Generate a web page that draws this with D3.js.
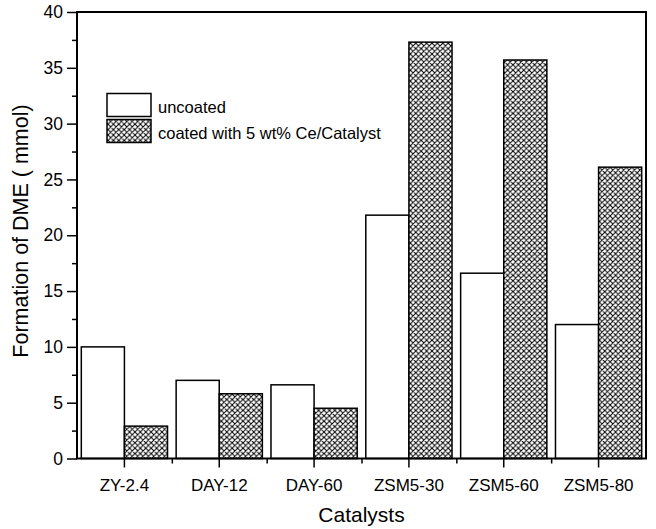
<!DOCTYPE html>
<html>
<head>
<meta charset="utf-8">
<script src="https://cdn.jsdelivr.net/npm/d3@7/dist/d3.min.js"></script>
<style>
body{margin:0;background:#fff;}
text{font-family:Arial,"Liberation Sans",sans-serif;fill:#000;}
</style>
</head>
<body>
<svg id="chart" width="656" height="529"></svg>
<script>
const categories = ["ZY-2.4","DAY-12","DAY-60","ZSM5-30","ZSM5-60","ZSM5-80"];
const uncoated = [10.0, 7.0, 6.6, 21.8, 16.6, 12.0];
const coated = [2.9, 5.8, 4.5, 37.3, 35.7, 26.1];
const seriesNames = ["uncoated","coated with 5 wt% Ce/Catalyst"];
const yTicks = [0,5,10,15,20,25,30,35,40];
const yMinorTicks = [2.5,7.5,12.5,17.5,22.5,27.5,32.5,37.5];

const svg = d3.select("#chart");
const m = {left:77, right:656-646, top:12, bottom:529-458.5};
const W = 656, H = 529;

const P = 5.4;
const defs = svg.append("defs");
const pat = defs.append("pattern").attr("id","hatch").attr("patternUnits","userSpaceOnUse")
  .attr("width",P).attr("height",P);
pat.append("rect").attr("width",P).attr("height",P).attr("fill","#fff");
pat.append("path").attr("d",`M0,0L${P},${P}M${P},0L0,${P}M-1,1L1,-1M${P-1},${P+1}L${P+1},${P-1}M-1,${P-1}L1,${P+1}M${P-1},-1L${P+1},1`)
  .attr("stroke","#000").attr("stroke-width",1).attr("fill","none");

const x = d3.scaleBand().domain(categories).range([m.left, W-m.right]).paddingInner(0).paddingOuter(0);
const xs = d3.scaleBand().domain([0,1]).range([0, x.bandwidth()]).paddingOuter(0.1).paddingInner(0);
const y = d3.scaleLinear().domain([0,40]).range([H-m.bottom, m.top]);

const g = svg.append("g");
const data = categories.map((c,i)=>({c, vals:[uncoated[i], coated[i]]}));
data.forEach(d=>{
  d.vals.forEach((v,j)=>{
    g.append("rect")
      .attr("x", x(d.c)+xs(j))
      .attr("y", y(v))
      .attr("width", xs.bandwidth())
      .attr("height", y(0)-y(v))
      .attr("fill", j===0 ? "#fff" : "url(#hatch)")
      .attr("stroke","#000").attr("stroke-width",1.5);
  });
});

// frame
svg.append("rect").attr("x",m.left).attr("y",m.top).attr("width",W-m.right-m.left).attr("height",y(0)-m.top)
  .attr("fill","none").attr("stroke","#000").attr("stroke-width",2);

// y axis
const yAxis = d3.axisLeft(y).tickValues(yTicks).tickSize(10).tickFormat(d3.format("d"));
const ya = svg.append("g").attr("transform",`translate(${m.left},0)`).call(yAxis);
ya.select(".domain").remove();
ya.selectAll("line").attr("stroke-width",1.5);
ya.selectAll("text").attr("font-size",17.5).attr("dx",-1).attr("font-family","Arial,'Liberation Sans',sans-serif");
const yMin = d3.axisLeft(y).tickValues(yMinorTicks).tickSize(5).tickFormat("");
const ym = svg.append("g").attr("transform",`translate(${m.left},0)`).call(yMin);
ym.select(".domain").remove();
ym.selectAll("line").attr("stroke-width",1.5);

// x axis
const xAxis = d3.axisBottom(x).tickSize(9).tickPadding(11);
const xa = svg.append("g").attr("transform",`translate(0,${y(0)})`).call(xAxis);
xa.select(".domain").remove();
xa.selectAll("line").attr("stroke-width",1.5);
xa.selectAll("text").attr("font-size",17).attr("font-family","Arial,'Liberation Sans',sans-serif");
const xMinorScale = d3.scaleLinear().domain([0,categories.length]).range([m.left, W-m.right]);
const xm = d3.axisBottom(xMinorScale).tickValues(d3.range(1,categories.length)).tickSize(5).tickFormat("");
const xmg = svg.append("g").attr("transform",`translate(0,${y(0)})`).call(xm);
xmg.select(".domain").remove();
xmg.selectAll("line").attr("stroke-width",1.5);

// titles
svg.append("text").attr("x",(m.left+W-m.right)/2).attr("y",522).attr("text-anchor","middle")
  .attr("font-size",21).text("Catalysts");
svg.append("text").attr("transform","translate(28,231) rotate(-90)").attr("text-anchor","middle")
  .attr("font-size",21.5).text("Formation of DME ( mmol)");

// legend
const lg = svg.append("g");
seriesNames.forEach((n,i)=>{
  lg.append("rect").attr("x",107).attr("y",93.5+i*26).attr("width",44).attr("height",23)
    .attr("fill", i===0?"#fff":"url(#hatch)").attr("stroke","#000").attr("stroke-width",1.5);
  lg.append("text").attr("x",158).attr("y",113+i*26).attr("font-size",16.5).text(n);
});
</script>
</body>
</html>
